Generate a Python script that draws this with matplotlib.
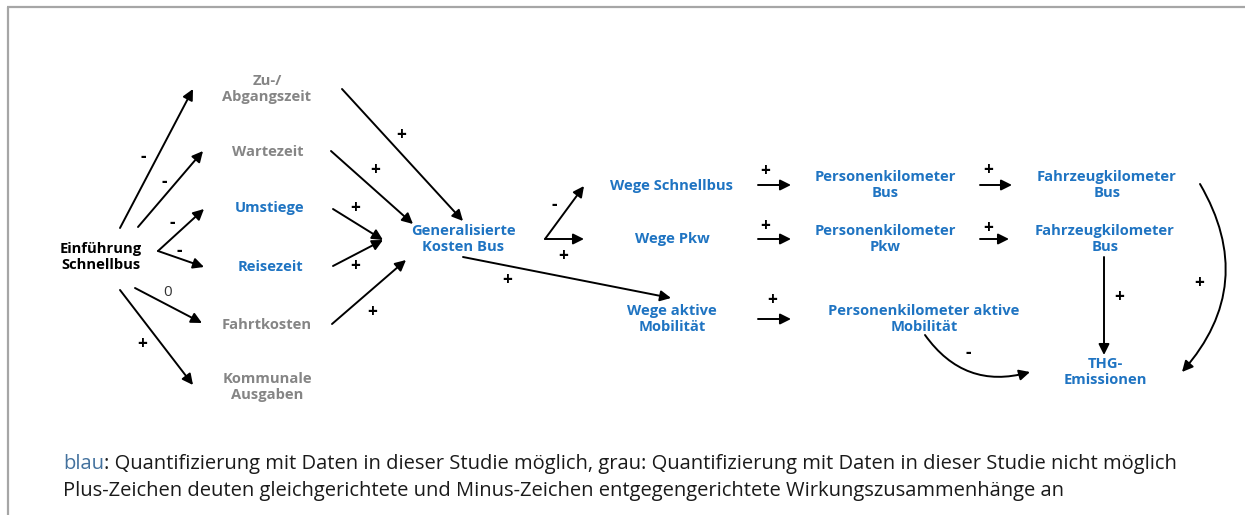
import matplotlib
matplotlib.use("Agg")
import matplotlib.pyplot as plt
from matplotlib.patches import FancyArrowPatch

# ---------------- data ----------------
node_labels = [
    "Einführung\nSchnellbus",
    "Zu-/\nAbgangszeit",
    "Wartezeit",
    "Umstiege",
    "Reisezeit",
    "Fahrtkosten",
    "Kommunale\nAusgaben",
    "Generalisierte\nKosten Bus",
    "Wege Schnellbus",
    "Wege Pkw",
    "Wege aktive\nMobilität",
    "Personenkilometer\nBus",
    "Personenkilometer\nPkw",
    "Personenkilometer aktive\nMobilität",
    "Fahrzeugkilometer\nBus",
    "Fahrzeugkilometer\nBus",
    "THG-\nEmissionen",
]
node_status = ["start", "grau", "grau", "blau", "blau", "grau", "grau", "blau",
               "blau", "blau", "blau", "blau", "blau", "blau", "blau", "blau", "blau"]

edge_signs = ["-", "-", "-", "-", "0", "+",
              "+", "+", "+", "+", "+",
              "-", "+", "+",
              "+", "+", "+",
              "+", "+",
              "+", "+", "-"]

caption_lead = "blau"
caption_line1 = ": Quantifizierung mit Daten in dieser Studie möglich, grau: Quantifizierung mit Daten in dieser Studie nicht möglich"
caption_line2 = "Plus-Zeichen deuten gleichgerichtete und Minus-Zeichen entgegengerichtete Wirkungszusammenhänge an"

# ---------------- layout (pixel coordinates) ----------------
node_pos = [(101, 257), (267, 89), (268, 152), (270, 208), (270, 267), (267, 325),
            (267, 387), (463, 239), (672, 186), (672, 239), (672, 319),
            (885, 185), (885, 239), (924, 319), (1107, 185), (1105, 239), (1105, 372)]

# (start, end, sign label position, curvature)
edge_geom = [
    ((120, 228), (193, 89), (143, 157), 0),
    ((138, 227), (203, 151), (164, 182), 0),
    ((158, 251), (204, 209), (172, 223), 0),
    ((158, 251), (204, 267), (179, 251), 0),
    ((135, 288), (202, 323), (168, 293), 0),
    ((120, 290), (193, 385), (142, 344), 0),
    ((342, 89), (463, 221), (401, 135), 0),
    ((331, 151), (413, 224), (375, 170), 0),
    ((333, 209), (383, 240), (355, 208), 0),
    ((333, 266), (383, 240), (355, 266), 0),
    ((332, 324), (406, 260), (372, 312), 0),
    ((545, 239), (584, 186), (554, 205), 0),
    ((545, 239), (584, 239), (563, 256), 0),
    ((463, 257), (671, 298), (507, 280), 0),
    ((758, 185), (791, 185), (765, 171), 0),
    ((758, 239), (791, 239), (765, 226), 0),
    ((758, 319), (791, 319), (772, 300), 0),
    ((980, 185), (1012, 185), (988, 170), 0),
    ((980, 239), (1009, 239), (988, 228), 0),
    ((1104, 257), (1104, 355), (1119, 297), 0),
    ((1200, 184), (1182, 372), (1199, 283), -0.36),
    ((925, 335), (1030, 372), (968, 353), 0.35),
]

colors = {"start": "#000000", "grau": "#858585", "blau": "#1f74c2"}

W, H = 1245, 515
fig = plt.figure(figsize=(W / 100, H / 100), dpi=100)
ax = fig.add_axes([0, 0, 1, 1])
ax.set_xlim(0, W)
ax.set_ylim(H, 0)
ax.axis("off")

# frame
ax.plot([7.5, 7.5], [H, 7], color="#a6a6a6", lw=1.6, solid_capstyle="butt")
ax.plot([7, W], [7, 7], color="#a6a6a6", lw=1.6, solid_capstyle="butt")

font = "Open Sans"
for lab, st, (x, y) in zip(node_labels, node_status, node_pos):
    ax.text(x, y, lab, ha="center", va="center", fontsize=10.6, fontweight="bold",
            color=colors[st], family=font, linespacing=1.15)

for sign, (p0, p1, lp, rad) in zip(edge_signs, edge_geom):
    arr = FancyArrowPatch(p0, p1, arrowstyle="-|>", mutation_scale=16, lw=1.4,
                          color="black", shrinkA=0, shrinkB=0,
                          connectionstyle=f"arc3,rad={rad}")
    ax.add_patch(arr)
    if sign == "0":
        ax.text(lp[0], lp[1], sign, ha="center", va="center", fontsize=11,
                color="#333333", family=font)
    else:
        ax.text(lp[0], lp[1], sign, ha="center", va="center", fontsize=12.5,
                fontweight="bold", color="black", family=font)

# caption
cap_size = 14.5
t = ax.text(63, 464, caption_lead, ha="left", va="center", fontsize=cap_size,
            color="#44729e", family=font)
fig.canvas.draw()
bb = t.get_window_extent()
x_after = bb.x1  # display px equals data px here
ax.text(x_after, 464, caption_line1, ha="left", va="center", fontsize=cap_size,
        color="#1a1a1a", family=font)
ax.text(63, 491, caption_line2, ha="left", va="center", fontsize=cap_size,
        color="#1a1a1a", family=font)

fig.savefig("out.png", dpi=100)
